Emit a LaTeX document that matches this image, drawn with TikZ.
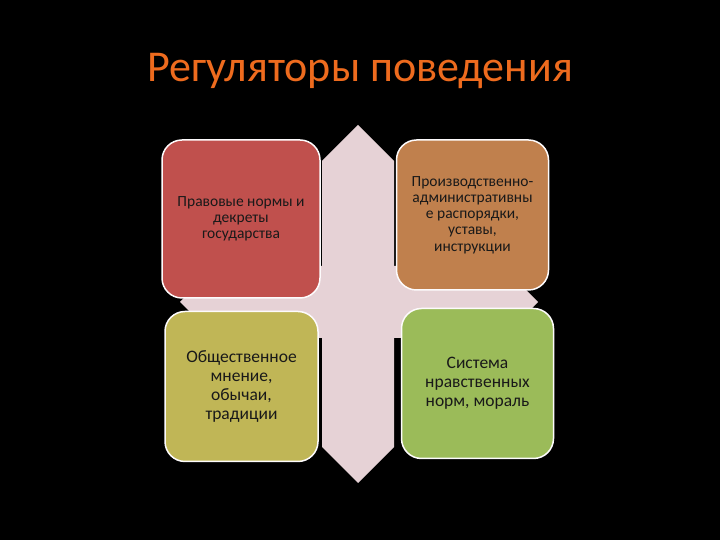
\documentclass[tikz,border=0pt]{standalone}
\usepackage{fontspec}
\setmainfont{Carlito}
\usepackage{xcolor}
\usepackage{tikz}
\usetikzlibrary{positioning}

\definecolor{titleorange}{HTML}{EE6B1E}
\definecolor{bgpink}{HTML}{E6D2D6}
\definecolor{legalred}{HTML}{C0504D}
\definecolor{adminbrown}{HTML}{C0804D}
\definecolor{opinionolive}{HTML}{C0B656}
\definecolor{moralgreen}{HTML}{9BBB59}

\begin{document}
\begin{tikzpicture}[
    x=1pt, y=1pt,
    box/.style={draw=white!92!bgpink, line width=1.5pt, rounded corners=20pt, align=center, text=black!90, inner sep=2pt},
    small/.style={font=\fontsize{15.5}{16.3}\selectfont},
    large/.style={font=\fontsize{17.5}{19}\selectfont},
]
\fill[black] (0,0) rectangle (720,540);
\useasboundingbox (0,0) rectangle (720,540);
\node[anchor=base, text=titleorange, font=\fontsize{44}{52}\selectfont] (title) at (360,458) {Регуляторы поведения};
% background cross
\fill[bgpink] (358,415) -- (394,379) -- (394,93) -- (358,57) -- (322,93) -- (322,379) -- cycle;
\fill[bgpink] (180,238) -- (216,274) -- (502,274) -- (538,238) -- (502,202) -- (216,202) -- cycle;
\node[box, small, fill=legalred, minimum width=158pt, minimum height=158pt] (legal) at (241,321) {Правовые нормы и\\декреты\\государства};
\node[box, small, fill=adminbrown, minimum width=152pt, minimum height=150pt, right=75pt of legal.north east, anchor=north west] (admin) {Производственно-\\административны\\е распорядки,\\уставы,\\инструкции};
\node[box, large, fill=opinionolive, minimum width=153pt, minimum height=150pt, below=12pt of legal.south west, anchor=north west, xshift=3pt] (opinion) {Общественное\\мнение,\\обычаи,\\традиции};
\node[box, large, fill=moralgreen, minimum width=152pt, minimum height=150pt, right=82pt of opinion.north east, anchor=north west, yshift=3pt] (moral) {Система\\нравственных\\норм, мораль};
\end{tikzpicture}
\end{document}
